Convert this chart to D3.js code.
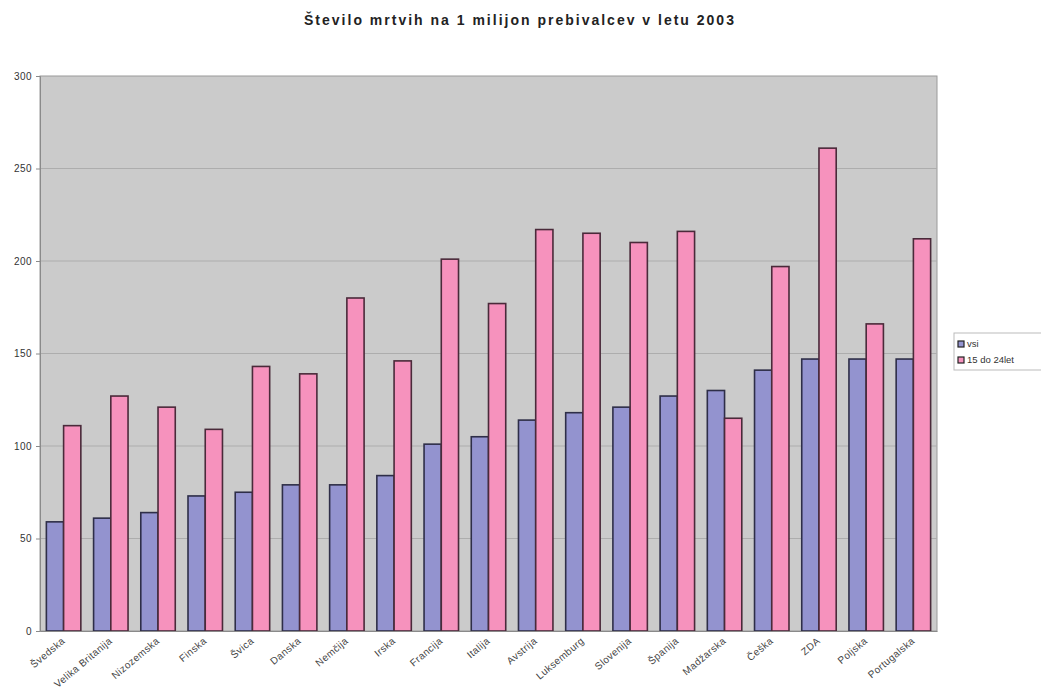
<!DOCTYPE html>
<html>
<head>
<meta charset="utf-8">
<script src="https://cdn.jsdelivr.net/npm/d3@7"></script>
<style>
  body { margin: 0; background: #fff; }
  text { font-family: "Liberation Sans", Arial, sans-serif; }
</style>
</head>
<body>
<div id="chart"></div>
<script>
const countries = ["Švedska", "Velika Britanija", "Nizozemska", "Finska", "Švica", "Danska", "Nemčija", "Irska",
  "Francija", "Italija", "Avstrija", "Luksemburg", "Slovenija", "Španija", "Madžarska", "Češka", "ZDA", "Poljska", "Portugalska"];
const vsi = [59, 61, 64, 73, 75, 79, 79, 84, 101, 105, 114, 118, 121, 127, 130, 141, 147, 147, 147];
const mladi = [111, 127, 121, 109, 143, 139, 180, 146, 201, 177, 217, 215, 210, 216, 115, 197, 261, 166, 212];
const seriesNames = ["vsi", "15 do 24let"];
const yTicks = [0, 50, 100, 150, 200, 250, 300];

const width = 1041, height = 696;
const margin = { top: 76, right: 104, bottom: 65, left: 40 };
const colors = ["#9393cf", "#f692bd"];

const svg = d3.select("#chart").append("svg")
  .attr("width", width)
  .attr("height", height);

const x = d3.scaleBand()
  .domain(countries)
  .range([margin.left, width - margin.right])
  .paddingInner(0.27)
  .paddingOuter(0.135);

const xSub = d3.scaleBand()
  .domain(seriesNames)
  .range([0, x.bandwidth()]);

const y = d3.scaleLinear()
  .domain([0, 300])
  .range([height - margin.bottom, margin.top]);

// plot background
svg.append("rect")
  .attr("x", margin.left)
  .attr("y", margin.top)
  .attr("width", width - margin.right - margin.left)
  .attr("height", height - margin.bottom - margin.top)
  .attr("fill", "#cbcbcb")
  .attr("stroke", "#9a9a9a");

// gridlines
svg.append("g")
  .selectAll("line")
  .data(yTicks.slice(1, -1))
  .enter().append("line")
  .attr("x1", margin.left)
  .attr("x2", width - margin.right)
  .attr("y1", d => y(d))
  .attr("y2", d => y(d))
  .attr("stroke", "#adadad");

// bars
const groups = svg.append("g")
  .selectAll("g")
  .data(countries)
  .enter().append("g")
  .attr("transform", d => `translate(${x(d)},0)`);

groups.selectAll("rect")
  .data((d, i) => [vsi[i], mladi[i]])
  .enter().append("rect")
  .attr("x", (d, j) => xSub(seriesNames[j]))
  .attr("y", d => y(d))
  .attr("width", xSub.bandwidth())
  .attr("height", d => y(0) - y(d))
  .attr("fill", (d, j) => colors[j])
  .attr("stroke", (d, j) => j === 0 ? "#2e2e48" : "#4a2a3a")
  .attr("stroke-width", 1.6);

// y axis
const yAxis = svg.append("g")
  .attr("transform", `translate(${margin.left},0)`)
  .call(d3.axisLeft(y).tickValues(yTicks).tickSize(4).tickPadding(4));
yAxis.select(".domain").attr("stroke", "#8a8a8a");
yAxis.selectAll(".tick line").attr("stroke", "#8a8a8a");
yAxis.selectAll("text").attr("font-size", 10).attr("letter-spacing", 0.4).attr("fill", "#333");

// x axis
const xAxis = svg.append("g")
  .attr("transform", `translate(0,${y(0)})`)
  .call(d3.axisBottom(x).tickSize(0).tickPadding(0));
xAxis.select(".domain").attr("stroke", "#8a8a8a");
xAxis.selectAll("text")
  .attr("font-size", 10)
  .attr("letter-spacing", 0.4)
  .attr("fill", "#444")
  .attr("text-anchor", "end")
  .attr("dy", 0)
  .attr("transform", "translate(2,11) rotate(-40)");

// title
svg.append("text")
  .attr("x", 520)
  .attr("y", 25)
  .attr("text-anchor", "middle")
  .attr("font-size", 14)
  .attr("font-weight", "bold")
  .attr("letter-spacing", 2)
  .attr("fill", "#222")
  .text("Število mrtvih na 1 milijon prebivalcev v letu 2003");

// legend
const legend = svg.append("g").attr("transform", "translate(954,333)");
legend.append("rect")
  .attr("width", 90)
  .attr("height", 37)
  .attr("fill", "#fff")
  .attr("stroke", "#bbb");
seriesNames.forEach((name, i) => {
  legend.append("rect")
    .attr("x", 4)
    .attr("y", 8 + i * 16)
    .attr("width", 6)
    .attr("height", 6)
    .attr("fill", colors[i])
    .attr("stroke", "#222")
    .attr("stroke-width", 1.2);
  legend.append("text")
    .attr("x", 13)
    .attr("y", 14 + i * 16)
    .attr("font-size", 9.5)
    .attr("fill", "#333")
    .text(name);
});
</script>
</body>
</html>
